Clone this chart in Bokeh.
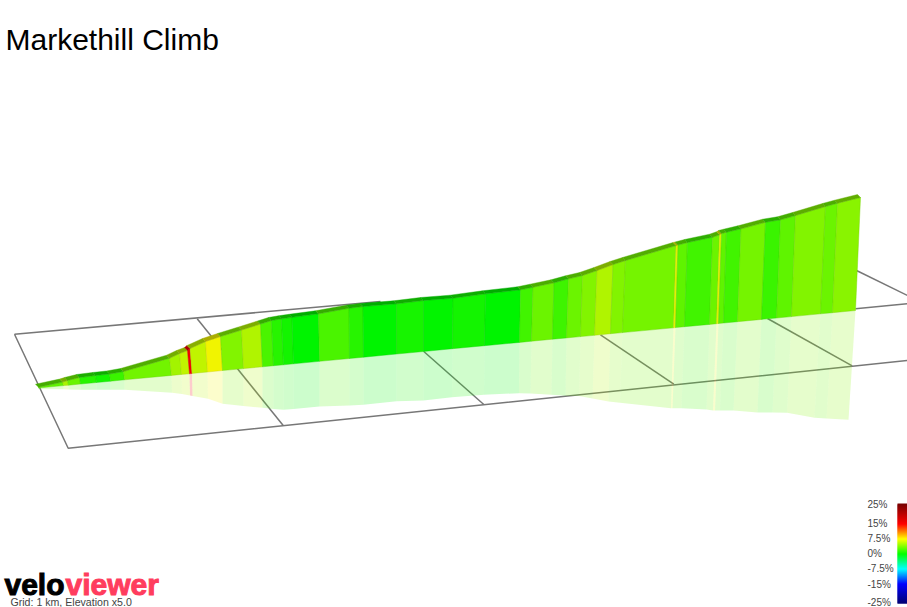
from bokeh.plotting import figure
from bokeh.models import Range1d
from bokeh.core.properties import value
from bokeh.embed import file_html
from bokeh.resources import INLINE

title = "Markethill Climb"
footer = "Grid: 1 km, Elevation x5.0"

base_x = [38,63,68,80,96,110,124,171,181,189,191.5,207,222,243,262,273,283,293,319,349,363,396,423,452,484,519,531,552,566,580,594,610,622,673,675,684,709,716,718,723,737,761,776,791,820,832,855]
base_y = [387.5,385.1,384.7,383.5,382,380.7,379.3,374.9,373.9,373.3,372.9,371.5,370,368.1,366.3,365.2,364.3,363.3,360.8,358,356.7,353.5,351,348.2,345.2,341.9,340.7,338.7,337.4,336.1,334.8,333.2,332.1,327.3,327.1,326.2,323.9,323.2,323,322.5,321.2,318.9,317.5,316.1,313.3,312.2,310]
top_x = [38,62,67,79,95,109,123,169,179,187,189.5,205,220,241,260,271,281,291.5,318,348.5,362.5,396,423,452.5,485,520,532.5,553.5,568,582,596.5,612.5,625,675.5,677.5,687,712,719,721,726,740.5,765,780,795,825,837,860]
top_y = [386.7,381.6,380,377,375,373.5,371,357.7,353,350,348,341,336,329.5,323.5,320,318.3,316.8,313.3,307.7,306,303.3,300,297.7,293.3,289.3,286.7,282.3,278.3,275,270,264,260,245,244.5,242,236.7,234.3,233,231.7,228.3,221.7,219.3,215,206,202.7,197]
refl_x = [38,63,68,80,96,110,124,171.5,181.5,189.5,192,207.5,222,243,262,273,283,293,319,349,363,396,423,451.5,483.5,518.5,530,551,565,578.5,592,608,619.5,670.5,672,681,706,712.5,714.5,719.5,733,757,772,786.5,814,826,848]
refl_y = [388.5,388.7,389,389.3,389.3,389.3,389.3,392.3,393.5,395,395.5,398.3,403.3,405.5,407.3,408.5,409.3,408.5,406,405,404.3,400.7,400,396.7,394.3,392.7,393,394.3,395.3,395.5,398,401,402.3,407.7,407.7,407.7,409,410,410,410,410,412,412,412.3,417.3,418,419.3]
gradient = [3,5.2,3.3,1.2,.6,1.8,3.5,5,5.9,15,5.9,7.4,4,5.4,2.3,1.2,.6,0,2.3,1.2,0,.7,.1,.6,0,2,3.3,1.9,3.3,4,5.4,4,3.6,7,2.9,2,3.3,7,2.9,2,3.6,1.8,2.9,4,3.3,4.2]

grid_xs = [[14,67.7,907],[14,380],[196.7,282.7],[423.3,483.3],[600,673.3],[767,851.7],[856,907],[855,907]]
grid_ys = [[333.7,447.7,360],[333.7,301],[318.3,425],[351,404],[334.3,383.7],[318,365.3],[270,295],[308.3,303.3]]

scale_pct = [25,15,7.5,0,-7.5,-15,-25]
scale_lbl = ["25%","15%","7.5%","0%","-7.5%","-15%","-25%"]
scale_rgb = [(120,0,0),(255,0,0),(255,255,0),(0,255,0),(0,255,255),(0,0,255),(0,0,110)]
scale_y = [503,523,538,553,568,583,603]
label_y = [504,523,538,553,568,584,602]

def grade_rgb(g):
    g = max(-25, min(25, g))
    for i in range(len(scale_pct)-1):
        a, b = scale_pct[i], scale_pct[i+1]
        if b <= g <= a:
            t = (g-b)/(a-b)
            return tuple(int(round(scale_rgb[i+1][k]+(scale_rgb[i][k]-scale_rgb[i+1][k])*t)) for k in range(3))
    return (0,255,0)

def hexc(c, f=1.0):
    return "#%02x%02x%02x" % tuple(int(v*f) for v in c)

p = figure(width=907, height=607, x_range=Range1d(0,907), y_range=Range1d(607,0),
           output_backend="svg", toolbar_location=None, min_border=0)
p.xaxis.visible = False
p.yaxis.visible = False
p.grid.visible = False
p.outline_line_color = None
p.background_fill_color = "white"

p.multi_line(grid_xs, grid_ys, line_color="#777777", line_width=1.5)

n = len(gradient)
colors = [hexc(grade_rgb(g), 0.96) for g in gradient]
dark = [hexc(grade_rgb(g), 0.68) for g in gradient]
edge = [hexc(grade_rgb(g), 0.82) for g in gradient]

rx = [[base_x[i],base_x[i+1],refl_x[i+1],refl_x[i]] for i in range(n)]
ry = [[base_y[i],base_y[i+1],refl_y[i+1],refl_y[i]] for i in range(n)]
p.patches(rx, ry, fill_color=colors, fill_alpha=0.2, line_color=None)

wx = [[base_x[i],base_x[i+1],top_x[i+1],top_x[i]] for i in range(n)]
wy = [[base_y[i],base_y[i+1],top_y[i+1],top_y[i]] for i in range(n)]
p.patches(wx, wy, fill_color=colors, line_color=edge, line_width=0.6, line_alpha=0.7)

sx = [[top_x[i],top_x[i+1],top_x[i+1]-3,top_x[i]-3] for i in range(n)]
sy = [[top_y[i],top_y[i+1],top_y[i+1]-3,top_y[i]-3] for i in range(n)]
p.patches(sx, sy, fill_color=dark, line_color=dark, line_width=0.4)

# gradient scale
cols = []
tops, bots = [], []
for i in range(len(scale_y)-1):
    steps = scale_y[i+1]-scale_y[i]
    for s in range(steps):
        t = s/steps
        a, b = scale_rgb[i], scale_rgb[i+1]
        cols.append(hexc(tuple(a[k]+(b[k]-a[k])*t for k in range(3))))
        tops.append(scale_y[i]+s)
        bots.append(min(scale_y[i]+s+2, 603))
p.quad(left=897, right=907, top=tops, bottom=bots, fill_color=cols, line_color=None, fill_alpha=1.0)

p.text(x=[867]*len(scale_lbl), y=label_y, text=scale_lbl, text_font=value("Liberation Sans"),
       text_font_size="10px", text_color="#444444", text_baseline="middle", text_align="left")
p.text(x=[5], y=[39], text=[title], text_font=value("Liberation Sans"), text_font_size="30px",
       text_color="#000000", text_baseline="middle")
p.text(x=[4], y=[584], text=["velo"], text_font=value("Liberation Sans"), text_font_size="30px",
       text_font_style="bold", text_color="#000000", text_baseline="middle",
       text_outline_color="#000000")
p.text(x=[65], y=[584], text=["viewer"], text_font=value("Liberation Sans"), text_font_size="30px",
       text_font_style="bold", text_color="#ff3d5e", text_baseline="middle",
       text_outline_color="#ff3d5e")
p.text(x=[10], y=[601], text=[footer], text_font=value("Liberation Sans"), text_font_size="10.6px",
       text_color="#444444", text_baseline="middle")

open("out.html", "w").write(file_html(p, INLINE))
